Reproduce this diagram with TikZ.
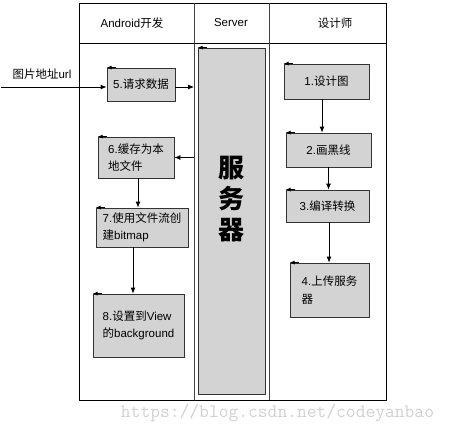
\documentclass[tikz,border=0pt]{standalone}
\usepackage{fontspec}
\setmainfont{Liberation Sans}
\newfontfamily\cjk{Noto Sans CJK SC}
\usetikzlibrary{arrows.meta}
\definecolor{boxgray}{RGB}{211,211,211}
\definecolor{wmgray}{RGB}{208,208,208}

\begin{document}
\begin{tikzpicture}[x=1pt,y=-1pt,
    stepbox/.style={draw=black!80,fill=boxgray,line width=0.8pt,
                    align=left,inner sep=2pt,
                    font=\fontsize{11.5}{17.5}\selectfont},
    lanehead/.style={font=\fontsize{11.5}{14}\selectfont},
    arr/.style={-{Latex[length=6pt,width=5pt]},line width=0.8pt},
    tip/.style={-{Latex[length=5pt,width=4pt]},line width=0.8pt}]
  \useasboundingbox (0,0) rectangle (449,432);
  % frame and swimlanes
  \draw[line width=0.8pt] (79,3) rectangle (386,400);
  \draw[line width=0.8pt] (79,43) -- (386,43);
  \coordinate (lane1) at (194,3);
  \coordinate (lane2) at (269,3);
  \draw[line width=0.9pt,black!75] (lane1) -- (194,400);
  \draw[line width=0.9pt,black!75] (lane2) -- (269,400);
  \node[lanehead] (hand) at (132,23) {Android{\cjk 开发}};
  \node[lanehead] (hsrv) at (231,23) {Server};
  \node[lanehead] (hdes) at (335,23) {\cjk 设计师};

  % server
  \node[stepbox,minimum width=67pt,minimum height=346pt] (server)
    at (231.5,221) {};
  \node[font=\cjk\bfseries\fontsize{26}{31}\selectfont,align=center]
    (srvtxt) at (231.5,199) {服\\务\\器};

  % designer
  \node[stepbox,minimum width=85pt,minimum height=35pt] (b1)
    at (326.5,81.5) {1.{\cjk 设计图}};
  \node[stepbox,minimum width=85pt,minimum height=34pt] (b2)
    at (328.5,150) {2.{\cjk 画黑线}};
  \node[stepbox,minimum width=83pt,minimum height=32pt] (b3)
    at (327.5,206) {3.{\cjk 编译转换}};
  \node[stepbox,minimum width=79pt,minimum height=54pt] (b4)
    at (329.5,290) {4.{\cjk 上传服务}\\{\cjk 器}};

  % android
  \node[stepbox,minimum width=68pt,minimum height=33pt] (b5)
    at (141,84.5) {5.{\cjk 请求数据}};
  \node[stepbox,minimum width=76pt,minimum height=41pt] (b6)
    at (136,157.5) {6.{\cjk 缓存为本}\\{\cjk 地文件}};
  \node[stepbox,minimum width=92pt,minimum height=39pt] (b7)
    at (142,227.5) {7.{\cjk 使用文件流创}\\{\cjk 建}bitmap};
  \node[stepbox,minimum width=91pt,minimum height=63pt] (b8)
    at (138.5,325.5) {8.{\cjk 设置到}View\\{\cjk 的}background};

  \foreach \b in {b1,b2,b3,b4,b5,b6,b7,b8,server}
    \draw[tip] ([xshift=9pt]\b.north west) -- (\b.north west);

  % input
  \coordinate (url) at (1,87);
  \node[lanehead,anchor=west] (urltxt) at (9,74) {{\cjk 图片地址}url};
  \draw[arr] (url) -- (url -| b5.west);

  % connectors
  \draw[arr] (b5.east |- url) -- (url -| lane1);
  \draw[arr] (b6 -| lane1) -- (b6.east);
  \draw[arr] ([xshift=2pt]b6.south) -- ([xshift=2pt]b6.south |- b7.north);
  \draw[arr] ([xshift=-9pt]b7.south) -- ([xshift=-9pt]b7.south |- b8.north);
  \draw[arr] ([xshift=-4.5pt]b1.south) -- ([xshift=-4.5pt]b1.south |- b2.north);
  \draw[arr] (b2.south) -- (b2.south |- b3.north);
  \draw[arr] ([xshift=1.5pt]b3.south) -- ([xshift=1.5pt]b3.south |- b4.north);

  % watermark
  \node[text=wmgray,font=\ttfamily\fontsize{19}{20}\selectfont] (wm)
    at (277.5,413) {https://blog.csdn.net/codeyanbao};
\end{tikzpicture}
\end{document}
